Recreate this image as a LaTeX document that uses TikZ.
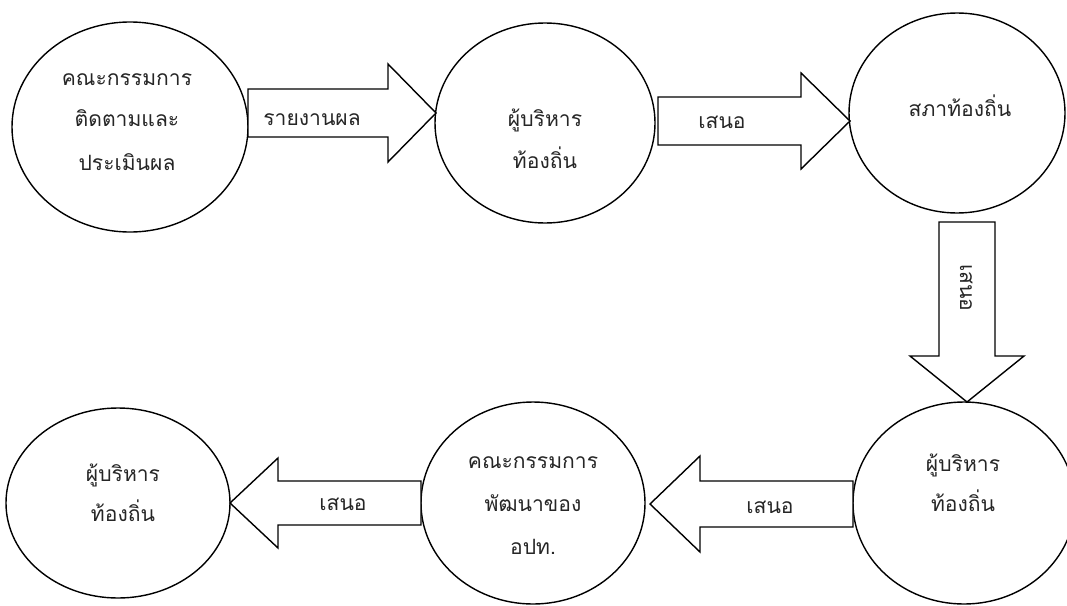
\documentclass[tikz,border=0pt]{standalone}
\usepackage{fontspec}
\newfontfamily\thaifont[Script=Thai]{Loma}
\usetikzlibrary{shapes.geometric}
\newcommand{\hblock}[6]{% tail x, head base x, tip x, centre y, shaft half, head half
  \draw[blk] (#1,#4-#5) -- (#2,#4-#5) -- (#2,#4-#6) -- (#3,#4) -- (#2,#4+#6) -- (#2,#4+#5) -- (#1,#4+#5) -- cycle;}
\newcommand{\vblock}[6]{% tail y, head base y, tip y, centre x, shaft half, head half
  \draw[blk] (#4-#5,#1) -- (#4-#5,#2) -- (#4-#6,#2) -- (#4,#3) -- (#4+#6,#2) -- (#4+#5,#2) -- (#4+#5,#1) -- cycle;}
\begin{document}
\begin{tikzpicture}[x=0.02cm,y=-0.02cm,
  bub/.style={draw, line width=0.8pt, ellipse, inner sep=0pt},
  blk/.style={draw, line width=0.8pt, line join=miter, fill=white},
  txt/.style={font=\thaifont\fontsize{12}{14}\selectfont, text=black!85, anchor=mid, inner sep=0pt}]
\useasboundingbox[fill=white] (0,0) rectangle (1067,605);

% ellipses
\node[bub, minimum width=236*0.02cm, minimum height=210*0.02cm] (e1) at (130,127) {};
\node[bub, minimum width=220*0.02cm, minimum height=200*0.02cm] (e2) at (545,123) {};
\node[bub, minimum width=216*0.02cm, minimum height=200*0.02cm] (e3) at (957,113) {};
\node[bub, minimum width=222*0.02cm, minimum height=202*0.02cm] (e4) at (964,503) {};
\node[bub, minimum width=224*0.02cm, minimum height=190*0.02cm] (e5) at (118,503) {};
\node[bub, minimum width=224*0.02cm, minimum height=202*0.02cm] (e6) at (533,503) {};

% block arrows
\hblock{248}{388}{436}{113}{24}{49}
\hblock{658}{801}{850}{121}{24}{48}
\vblock{222}{356}{402}{967}{28}{57}
\hblock{853}{700}{650}{504}{23}{48}
\hblock{421}{278}{230}{503}{22}{45}

% texts in ellipses
\node[txt] (t1a) at (127,82) {คณะกรรมการ};
\node[txt] (t1b) at (127,123) {ติดตามและ};
\node[txt] (t1c) at (127,167) {ประเมินผล};
\node[txt] (t2a) at (545,123) {ผู้บริหาร};
\node[txt] (t2b) at (545,165) {ท้องถิ่น};
\node[txt] (t3a) at (960,113) {สภาท้องถิ่น};
\node[txt] (t4a) at (963,468) {ผู้บริหาร};
\node[txt] (t4b) at (963,508) {ท้องถิ่น};
\node[txt] (t5a) at (123,478) {ผู้บริหาร};
\node[txt] (t5b) at (123,518) {ท้องถิ่น};
\node[txt] (t6a) at (533,465) {คณะกรรมการ};
\node[txt] (t6b) at (533,508) {พัฒนาของ};
\node[txt] (t6c) at (533,551) {อปท.};

% arrow labels
\node[txt] (l1) at (312,122) {รายงานผล};
\node[txt] (l2) at (722,125) {เสนอ};
\node[txt, rotate=-90] (l3) at (964,288) {เสนอ};
\node[txt] (l4) at (770,510) {เสนอ};
\node[txt] (l5) at (343,507) {เสนอ};
\end{tikzpicture}
\end{document}
